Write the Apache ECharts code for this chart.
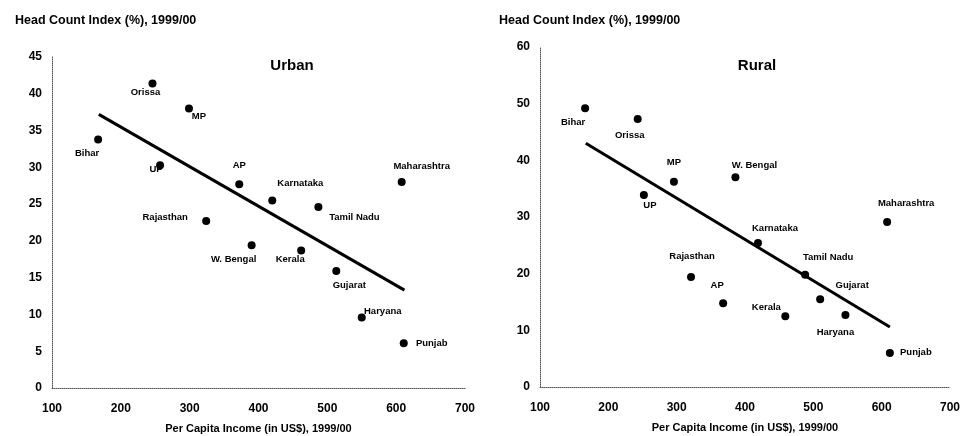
<!DOCTYPE html>
<html>
<head>
<meta charset="utf-8">
<script src="https://cdn.jsdelivr.net/npm/echarts@6/dist/echarts.min.js"></script>
<style>html,body{margin:0;padding:0;background:#fff}#c{width:961px;height:436px}</style>
</head>
<body>
<div id="c"></div>
<script>
// ---- data ----
const urbanStates = ['Orissa','MP','Bihar','UP','AP','Rajasthan','Karnataka','Maharashtra','Tamil Nadu','W. Bengal','Kerala','Gujarat','Haryana','Punjab'];
const urbanIncome = [246, 299, 167, 257, 372, 324, 420, 608, 487, 390, 462, 513, 550, 611];
const urbanHCI    = [41.4, 38.0, 33.8, 30.3, 27.7, 22.7, 25.5, 28.0, 24.6, 19.4, 18.7, 15.9, 9.6, 6.1];
const urbanTrendX = [168, 612];
const urbanTrendY = [37.2, 13.3];

const ruralStates = ['Bihar','Orissa','MP','UP','W. Bengal','Maharashtra','Karnataka','Tamil Nadu','Gujarat','Haryana','Rajasthan','AP','Kerala','Punjab'];
const ruralIncome = [166, 243, 296, 252, 386, 608, 419, 488, 510, 547, 321, 368, 459, 612];
const ruralHCI    = [49.2, 47.3, 36.2, 33.9, 37.0, 29.1, 25.4, 19.8, 15.5, 12.7, 19.4, 14.8, 12.5, 6.0];
const ruralTrendX = [167, 612];
const ruralTrendY = [43.0, 10.6];

const urbanYTicks = [0, 5, 10, 15, 20, 25, 30, 35, 40, 45];
const ruralYTicks = [0, 10, 20, 30, 40, 50, 60];
const xTicks = [100, 200, 300, 400, 500, 600, 700];

// ---- label placement (style) ----
const urbanLabelOffset = {
  'Orissa':[-7,9],'MP':[10,8],'Bihar':[-11,14],'UP':[-4,4],'AP':[0,-19],'Rajasthan':[-41,-4],
  'Karnataka':[28,-17],'Maharashtra':[20,-16],'Tamil Nadu':[36,10],'W. Bengal':[-18,14],
  'Kerala':[-11,9],'Gujarat':[13,14],'Haryana':[21,-6],'Punjab':[28,0]
};
const ruralLabelOffset = {
  'Bihar':[-12,14],'Orissa':[-8,16],'MP':[0,-19],'UP':[6,10],'W. Bengal':[19,-12],
  'Maharashtra':[19,-19],'Karnataka':[17,-15],'Tamil Nadu':[23,-17],'Gujarat':[32,-14],
  'Haryana':[-10,17],'Rajasthan':[1,-21],'AP':[-6,-18],'Kerala':[-19,-9],'Punjab':[26,-1]
};

const FONT = 'Liberation Sans, Arial, sans-serif';
const INK = '#000';

function pts(names, xs, ys, offs) {
  return names.map((n, i) => ({
    value: [xs[i], ys[i]], name: n,
    label: { offset: offs[n] }
  }));
}
function trend(xs, ys) { return xs.map((x, i) => [x, ys[i]]); }

const axisLine = { show: true, lineStyle: { color: '#555', type: 'dotted', width: 1 } };
function xAxis(gi) {
  return {
    type: 'value', gridIndex: gi, min: 100, max: 700, interval: 100,
    axisLine: axisLine, axisTick: { show: false }, splitLine: { show: false },
    axisLabel: { color: INK, fontFamily: FONT, fontWeight: 'bold', fontSize: 12, margin: 15,
      formatter: v => xTicks.includes(v) ? String(v) : '' },
    name: 'Per Capita Income (in US$), 1999/00', nameLocation: 'middle', nameGap: 35,
    nameTextStyle: { color: INK, fontFamily: FONT, fontWeight: 'bold', fontSize: 11 }
  };
}
function yAxis(gi, ticks) {
  return {
    type: 'value', gridIndex: gi, min: ticks[0], max: ticks[ticks.length - 1], interval: ticks[1] - ticks[0],
    axisLine: axisLine, axisTick: { show: false }, splitLine: { show: false },
    axisLabel: { color: INK, fontFamily: FONT, fontWeight: 'bold', fontSize: 12, margin: 10 }
  };
}
const scatterLabel = { show: true, position: 'inside', formatter: '{b}', color: INK,
  textBorderWidth: 0, opacity: 1,
  fontFamily: FONT, fontWeight: 'bold', fontSize: 9.5, align: 'center', verticalAlign: 'middle' };

const chart = echarts.init(document.getElementById('c'), null, { renderer: 'canvas' });
chart.setOption({
  backgroundColor: '#fff',
  animation: false,
  title: [
    { text: 'Head Count Index (%), 1999/00', left: 10, top: 9,
      textStyle: { color: INK, fontFamily: FONT, fontWeight: 'bold', fontSize: 12.5 } },
    { text: 'Head Count Index (%), 1999/00', left: 494, top: 9,
      textStyle: { color: INK, fontFamily: FONT, fontWeight: 'bold', fontSize: 12.5 } },
    { text: 'Urban', left: 287, top: 53, textAlign: 'center',
      textStyle: { color: INK, fontFamily: FONT, fontWeight: 'bold', fontSize: 15 } },
    { text: 'Rural', left: 752, top: 53, textAlign: 'center',
      textStyle: { color: INK, fontFamily: FONT, fontWeight: 'bold', fontSize: 15 } }
  ],
  grid: [
    { left: 52, right: 496, top: 57, bottom: 48, containLabel: false, outerBoundsMode: 'none' },
    { left: 540, right: 11, top: 47, bottom: 49, containLabel: false, outerBoundsMode: 'none' }
  ],
  xAxis: [xAxis(0), xAxis(1)],
  yAxis: [yAxis(0, urbanYTicks), yAxis(1, ruralYTicks)],
  series: [
    { type: 'scatter', xAxisIndex: 0, yAxisIndex: 0, symbolSize: 8,
      itemStyle: { color: INK, opacity: 1 }, label: scatterLabel,
      data: pts(urbanStates, urbanIncome, urbanHCI, urbanLabelOffset) },
    { type: 'line', xAxisIndex: 0, yAxisIndex: 0, symbol: 'none',
      lineStyle: { color: INK, width: 3 }, data: trend(urbanTrendX, urbanTrendY) },
    { type: 'scatter', xAxisIndex: 1, yAxisIndex: 1, symbolSize: 8,
      itemStyle: { color: INK, opacity: 1 }, label: scatterLabel,
      data: pts(ruralStates, ruralIncome, ruralHCI, ruralLabelOffset) },
    { type: 'line', xAxisIndex: 1, yAxisIndex: 1, symbol: 'none',
      lineStyle: { color: INK, width: 3 }, data: trend(ruralTrendX, ruralTrendY) }
  ]
});
</script>
</body>
</html>
